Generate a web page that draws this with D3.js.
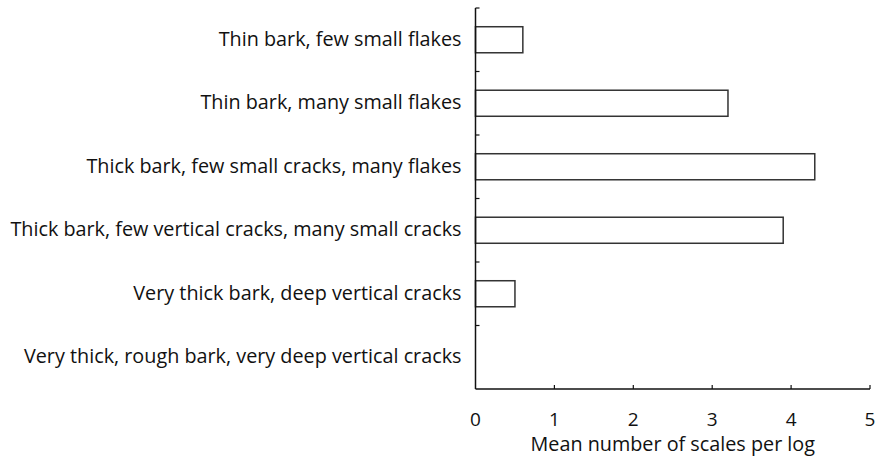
<!DOCTYPE html>
<html>
<head>
<meta charset="utf-8">
<script src="https://cdn.jsdelivr.net/npm/d3@7"></script>
<style>
  body { margin: 0; background: #fff; }
  svg text { font-family: "Open Sans", sans-serif; fill: #111; }
</style>
</head>
<body>
<div id="chart"></div>
<script>
// Data
const categories = [
  "Thin bark, few small flakes",
  "Thin bark, many small flakes",
  "Thick bark, few small cracks, many flakes",
  "Thick bark, few vertical cracks, many small cracks",
  "Very thick bark, deep vertical cracks",
  "Very thick, rough bark, very deep vertical cracks"
];
const values = [0.6, 3.2, 4.3, 3.9, 0.5, 0];
const xTicks = [0, 1, 2, 3, 4, 5];

const width = 877;
const height = 464;
const margin = { top: 8, right: 7, bottom: 75, left: 475.5 };

const svg = d3.select("#chart")
  .append("svg")
  .attr("width", width)
  .attr("height", height);

// Scales
const x = d3.scaleLinear()
  .domain([0, 5])
  .range([margin.left, width - margin.right]);

const y = d3.scaleBand()
  .domain(categories)
  .range([margin.top, height - margin.bottom])
  .paddingInner(0.59)
  .paddingOuter(0.295);

// Bars (zero-length bar is not drawn)
svg.selectAll("rect.bar")
  .data(categories.map((c, i) => ({ c, v: values[i] })).filter(d => d.v > 0))
  .enter()
  .append("rect")
  .attr("class", "bar")
  .attr("x", x(0))
  .attr("y", d => y(d.c))
  .attr("width", d => x(d.v) - x(0))
  .attr("height", y.bandwidth())
  .attr("fill", "#fff")
  .attr("stroke", "#333")
  .attr("stroke-width", 1.5);

// Y axis line + inward ticks at band boundaries
const yBottom = height - margin.bottom;
svg.append("line")
  .attr("x1", x(0)).attr("x2", x(0))
  .attr("y1", margin.top).attr("y2", yBottom)
  .attr("stroke", "#111").attr("stroke-width", 1.5);

svg.selectAll("line.ytick")
  .data(categories)
  .enter()
  .append("line")
  .attr("class", "ytick")
  .attr("x1", x(0)).attr("x2", x(0) + 4)
  .attr("y1", d => y(d) - y.step() * y.paddingOuter())
  .attr("y2", d => y(d) - y.step() * y.paddingOuter())
  .attr("stroke", "#111").attr("stroke-width", 1.2);

// Category labels
svg.selectAll("text.ylab")
  .data(categories)
  .enter()
  .append("text")
  .attr("class", "ylab")
  .attr("x", x(0) - 14)
  .attr("y", d => y(d) + y.bandwidth() / 2)
  .attr("dy", "0.3em")
  .attr("text-anchor", "end")
  .attr("font-size", "19.8px")
  .text(d => d);

// X axis
svg.append("line")
  .attr("x1", x(0)).attr("x2", x(5))
  .attr("y1", yBottom).attr("y2", yBottom)
  .attr("stroke", "#111").attr("stroke-width", 1.5);

svg.selectAll("line.xtick")
  .data(xTicks.slice(1))
  .enter()
  .append("line")
  .attr("class", "xtick")
  .attr("x1", d => x(d)).attr("x2", d => x(d))
  .attr("y1", yBottom).attr("y2", yBottom - 4)
  .attr("stroke", "#111").attr("stroke-width", 1.2);

svg.selectAll("text.xlab")
  .data(xTicks)
  .enter()
  .append("text")
  .attr("class", "xlab")
  .attr("x", d => x(d))
  .attr("y", yBottom + 37)
  .attr("text-anchor", "middle")
  .attr("font-size", "19px")
  .text(d => d);

svg.append("text")
  .attr("x", (x(0) + x(5)) / 2)
  .attr("y", yBottom + 62)
  .attr("text-anchor", "middle")
  .attr("font-size", "19.8px")
  .text("Mean number of scales per log");
</script>
</body>
</html>
